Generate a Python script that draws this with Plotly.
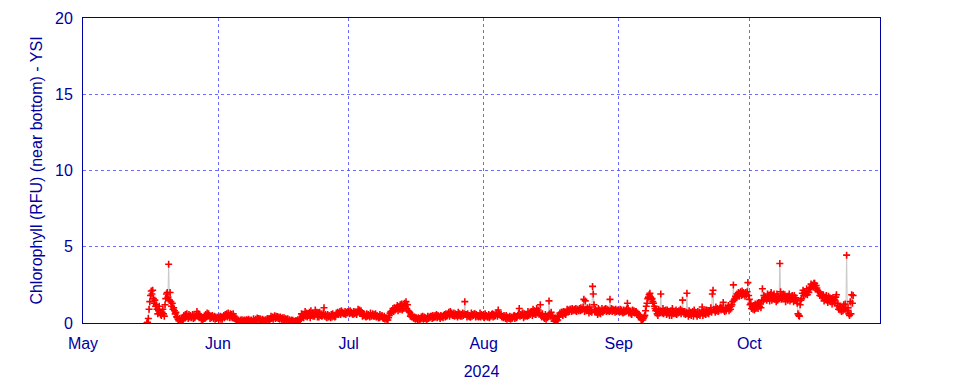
import pandas as pd
import plotly.graph_objects as go

# Chlorophyll (RFU) readings, six per day (every 4 h) starting 2024-05-15 16:00
start_time = "2024-05-15 16:00"
chl_values = [
    0.0, 0.05,                          # May 15
    0.3, 0.9, 1.4, 1.8, 2.1, 1.9,       # May 16
    2.15, 1.6, 1.3, 1.5, 1.1, 1.2,
    0.9, 0.6, 0.8, 1.1, 0.7, 0.55,
    0.5, 0.7, 0.9, 0.6, 0.45, 1.2,
    1.6, 1.9, 2.0, 1.7, 3.85, 1.5,      # May 20
    2.0, 1.4, 1.1, 1.3, 0.9, 1.0,
    0.8, 0.6, 0.7, 0.4, 0.35, 0.25,
    0.15, 0.3, 0.1, 0.2, 0.3, 0.15,
    0.25, 0.5, 0.35, 0.55, 0.4, 0.6,
    0.45, 0.3, 0.55, 0.4, 0.5, 0.35,    # May 25
    0.4, 0.55, 0.3, 0.5, 0.35, 0.45,
    0.5, 0.75, 0.45, 0.6, 0.35, 0.5,
    0.4, 0.25, 0.35, 0.2, 0.3, 0.35,
    0.3, 0.55, 0.4, 0.65, 0.45, 0.6,
    0.5, 0.3, 0.45, 0.35, 0.5, 0.4,     # May 30
    0.3, 0.45, 0.25, 0.4, 0.3, 0.35,
    0.4, 0.2, 0.35, 0.45, 0.25, 0.4,    # Jun 1
    0.25, 0.4, 0.5, 0.35, 0.55, 0.45,
    0.6, 0.4, 0.65, 0.5, 0.35, 0.6,
    0.4, 0.55, 0.35, 0.6, 0.45, 0.3,
    0.3, 0.15, 0.25, 0.1, 0.2, 0.12,    # Jun 5
    0.08, 0.2, 0.12, 0.22, 0.1, 0.15,
    0.2, 0.08, 0.15, 0.22, 0.1, 0.18,
    0.25, 0.1, 0.18, 0.08, 0.2, 0.12,
    0.1, 0.28, 0.15, 0.12, 0.25, 0.1,
    0.32, 0.15, 0.3, 0.2, 0.28, 0.18,   # Jun 10
    0.12, 0.25, 0.08, 0.2, 0.1, 0.18,
    0.22, 0.12, 0.3, 0.15, 0.25, 0.2,
    0.28, 0.45, 0.3, 0.4, 0.25, 0.38,
    0.48, 0.3, 0.45, 0.35, 0.42, 0.3,
    0.38, 0.25, 0.4, 0.3, 0.22, 0.35,   # Jun 15
    0.2, 0.35, 0.15, 0.28, 0.18, 0.25,
    0.28, 0.1, 0.22, 0.15, 0.08, 0.2,
    0.08, 0.18, 0.08, 0.12, 0.06, 0.15,
    0.15, 0.06, 0.22, 0.1, 0.18, 0.25,
    0.3, 0.6, 0.45, 0.55, 0.35, 0.5,    # Jun 20
    0.75, 0.45, 0.65, 0.4, 0.6, 0.5,
    0.7, 0.35, 0.8, 0.5, 0.6, 0.45,
    0.55, 0.45, 0.85, 0.6, 0.7, 0.4,
    0.65, 0.4, 0.7, 0.5, 0.6, 0.45,
    0.5, 0.65, 1.0, 0.45, 0.55, 0.4,    # Jun 25
    0.35, 0.55, 0.4, 0.5, 0.45, 0.35,
    0.55, 0.4, 0.6, 0.45, 0.5, 0.4,
    0.45, 0.65, 0.6, 0.7, 0.55, 0.65,
    0.75, 0.55, 0.8, 0.65, 0.7, 0.6,
    0.6, 0.75, 0.55, 0.7, 0.65, 0.75,   # Jun 30
    0.75, 0.6, 0.8, 0.65, 0.7, 0.6,     # Jul 1
    0.55, 0.75, 0.6, 0.7, 0.65, 0.55,
    0.7, 0.9, 0.75, 0.85, 0.7, 0.8,
    0.65, 0.45, 0.6, 0.5, 0.55, 0.45,
    0.4, 0.6, 0.45, 0.55, 0.5, 0.4,     # Jul 5
    0.65, 0.45, 0.5, 0.6, 0.45, 0.55,
    0.45, 0.6, 0.4, 0.5, 0.45, 0.35,
    0.35, 0.55, 0.4, 0.45, 0.5, 0.35,
    0.3, 0.45, 0.25, 0.35, 0.3, 0.2,
    0.2, 0.35, 0.5, 0.65, 0.75, 0.7,    # Jul 10
    0.8, 0.95, 0.75, 1.0, 0.85, 0.9,
    1.0, 1.15, 0.8, 1.05, 0.9, 1.2,
    0.9, 1.25, 0.85, 1.1, 0.95, 1.3,
    1.1, 1.4, 0.95, 1.2, 0.8, 0.75,
    0.7, 0.45, 0.55, 0.4, 0.5, 0.35,    # Jul 15
    0.3, 0.4, 0.25, 0.35, 0.3, 0.2,
    0.35, 0.2, 0.3, 0.25, 0.4, 0.3,
    0.45, 0.25, 0.4, 0.3, 0.35, 0.25,
    0.25, 0.45, 0.3, 0.4, 0.35, 0.45,
    0.45, 0.3, 0.5, 0.35, 0.4, 0.5,     # Jul 20
    0.4, 0.55, 0.35, 0.5, 0.45, 0.4,
    0.3, 0.5, 0.4, 0.45, 0.35, 0.5,
    0.55, 0.4, 0.6, 0.45, 0.5, 0.6,
    0.7, 0.45, 0.75, 0.55, 0.65, 0.5,
    0.5, 0.65, 0.45, 0.6, 0.5, 0.55,    # Jul 25
    0.4, 0.7, 0.5, 0.6, 0.45, 0.55,
    0.45, 0.65, 0.5, 0.6, 1.4, 0.55,
    0.55, 0.4, 0.6, 0.45, 0.5, 0.4,
    0.4, 0.65, 0.45, 0.55, 0.5, 0.6,
    0.6, 0.4, 0.55, 0.45, 0.5, 0.4,     # Jul 30
    0.45, 0.65, 0.4, 0.55, 0.5, 0.45,
    0.55, 0.35, 0.6, 0.45, 0.5, 0.4,    # Aug 1
    0.4, 0.55, 0.35, 0.5, 0.45, 0.55,
    0.6, 0.4, 0.55, 0.45, 0.5, 0.6,
    0.65, 0.45, 0.85, 0.55, 0.6, 0.5,
    0.55, 0.4, 0.45, 0.35, 0.5, 0.4,    # Aug 5
    0.3, 0.5, 0.25, 0.4, 0.35, 0.3,
    0.45, 0.25, 0.4, 0.3, 0.35, 0.45,
    0.5, 0.3, 0.45, 0.35, 0.4, 0.5,
    0.6, 0.95, 0.45, 0.55, 0.5, 0.6,
    0.65, 0.35, 0.6, 0.45, 0.55, 0.5,   # Aug 10
    0.45, 0.75, 0.5, 0.65, 0.55, 0.7,
    0.75, 0.5, 0.9, 0.6, 0.8, 0.55,
    0.55, 0.95, 0.65, 0.85, 0.7, 0.6,
    1.2, 0.5, 0.4, 0.6, 0.45, 0.35,
    0.3, 0.55, 0.25, 0.45, 0.35, 0.5,   # Aug 15
    1.45, 0.6, 0.45, 0.7, 0.5, 0.4,
    0.3, 0.12, 0.2, 0.1, 0.25, 0.15,
    0.2, 0.5, 0.4, 0.65, 0.55, 0.7,
    0.7, 0.5, 0.75, 0.6, 0.7, 0.55,
    0.7, 0.9, 0.8, 0.85, 0.75, 0.9,     # Aug 20
    0.9, 0.75, 0.95, 0.8, 0.85, 0.9,
    0.8, 0.95, 0.75, 0.9, 0.85, 0.8,
    0.95, 0.8, 1.0, 0.85, 0.9, 1.05,
    1.55, 0.75, 1.45, 0.9, 0.8, 1.0,
    0.9, 0.65, 1.05, 0.75, 0.85, 0.7,   # Aug 25
    2.4, 1.9, 1.2, 0.75, 0.9, 0.7,
    0.8, 0.55, 0.95, 0.65, 0.85, 0.6,
    0.75, 0.95, 0.7, 0.85, 0.8, 0.9,
    0.95, 0.75, 0.9, 0.8, 0.85, 0.75,
    1.55, 0.8, 0.95, 0.75, 0.9, 0.8,    # Aug 30
    0.85, 0.7, 0.9, 0.75, 0.8, 0.85,
    0.8, 0.7, 0.9, 0.75, 0.85, 0.7,     # Sep 1
    0.65, 0.85, 0.7, 0.8, 0.75, 0.9,
    1.3, 0.95, 0.65, 0.8, 0.7, 0.6,
    0.55, 0.85, 0.7, 0.8, 0.65, 0.75,
    0.75, 0.55, 0.65, 0.5, 0.55, 0.45,  # Sep 5
    0.35, 0.22, 0.3, 0.2, 0.3, 0.4,
    0.5, 0.8, 1.1, 1.3, 1.6, 1.7,
    1.85, 1.95, 1.7, 1.55, 1.6, 1.4,
    1.3, 1.1, 0.95, 0.8, 0.9, 0.6,
    0.5, 0.9, 0.65, 0.8, 1.9, 0.75,     # Sep 10
    0.65, 0.95, 0.6, 0.8, 0.7, 0.85,
    0.55, 0.85, 0.65, 0.75, 0.5, 0.7,
    0.8, 0.5, 0.95, 0.6, 0.75, 0.65,
    0.6, 0.85, 0.55, 0.75, 0.65, 0.8,
    0.7, 0.9, 0.6, 0.8, 1.5, 0.75,      # Sep 15
    0.6, 0.75, 0.55, 0.7, 1.95, 0.65,
    0.45, 0.8, 0.55, 0.7, 0.5, 0.65,
    0.75, 0.45, 0.85, 0.6, 0.7, 0.55,
    0.45, 0.75, 0.55, 0.7, 0.5, 0.65,
    0.7, 1.05, 0.5, 0.75, 0.6, 0.8,     # Sep 20
    0.55, 0.85, 0.65, 0.8, 0.6, 0.75,
    0.8, 1.0, 0.7, 1.9, 2.15, 0.9,
    0.85, 0.7, 1.05, 0.8, 0.95, 0.75,
    0.8, 0.95, 1.05, 0.85, 1.0, 0.9,
    1.35, 0.85, 0.75, 1.0, 0.8, 0.95,   # Sep 25
    1.0, 1.15, 0.8, 1.05, 0.9, 1.1,
    1.2, 1.4, 2.5, 1.5, 1.6, 1.75,
    1.65, 1.9, 1.85, 2.0, 1.75, 1.95,
    2.05, 1.8, 2.1, 1.85, 2.0, 1.9,
    1.75, 2.0, 1.85, 2.05, 2.65, 1.8,   # Sep 30
    1.55, 1.2, 1.3, 0.95, 1.1, 0.9,     # Oct 1
    1.15, 0.85, 1.25, 0.95, 1.1, 1.3,
    0.95, 1.35, 1.1, 1.25, 1.0, 1.5,
    2.25, 1.45, 1.8, 1.55, 1.7, 1.6,
    1.5, 1.9, 1.6, 1.75, 1.45, 1.85,    # Oct 5
    2.0, 1.5, 1.8, 1.6, 1.9, 1.55,
    1.65, 1.4, 1.9, 1.5, 1.75, 1.6,
    3.9, 2.05, 1.55, 1.8, 1.65, 1.9,
    1.7, 1.85, 1.4, 1.6, 1.75, 1.5,
    1.75, 1.9, 1.45, 1.65, 1.55, 1.8,   # Oct 10
    1.7, 1.4, 1.8, 1.55, 1.65, 1.45,
    1.3, 0.6, 0.5, 0.45, 1.2, 1.5,
    1.6, 1.95, 2.15, 1.8, 2.0, 1.9,
    1.9, 2.25, 1.85, 2.1, 2.0, 2.3,
    2.3, 2.55, 2.4, 2.5, 2.35, 2.6,     # Oct 15
    2.6, 2.25, 2.45, 2.3, 2.15, 2.05,
    2.05, 1.8, 1.95, 1.75, 1.85, 1.7,
    1.85, 1.45, 1.7, 1.55, 1.8, 1.5,
    1.35, 1.75, 1.5, 1.65, 1.4, 1.6,
    1.25, 1.65, 1.45, 1.55, 1.3, 1.7,   # Oct 20
    1.85, 1.15, 1.3, 0.9, 1.05, 0.85,
    1.05, 0.75, 0.95, 0.8, 1.2, 0.9,
    1.25, 0.9, 4.45, 0.8, 1.0, 0.6,
    0.5, 1.4, 0.6, 1.85, 1.3, 1.8,      # Oct 24
]

times = pd.date_range(start=start_time, periods=len(chl_values), freq="4h")

x_range = ["2024-05-01", "2024-10-31"]
y_range = [0, 20]
y_ticks = [0, 5, 10, 15, 20]

text_color = "#0000a0"
grid_color = "rgba(70,70,255,0.8)"

fig = go.Figure()
fig.add_trace(go.Scatter(
    x=times, y=chl_values, mode="lines+markers",
    line=dict(color="#c8c8c8", width=1),
    marker=dict(symbol="cross-thin", size=5, color="red",
                line=dict(color="red", width=1.6)),
    showlegend=False,
))

font = dict(family="Liberation Sans, Arial, sans-serif", size=16, color=text_color)

# the page body has an 8px default margin, so margins are offset accordingly
fig.update_layout(
    width=960, height=384,
    margin=dict(l=75, r=88, t=10, b=69),
    paper_bgcolor="white", plot_bgcolor="white",
    font=font,
    xaxis=dict(
        range=x_range, type="date", dtick="M1", tick0="2024-05-01",
        tickformat="%b", showgrid=True, gridcolor=grid_color,
        griddash="dot", gridwidth=1, automargin=False,
        showline=True, linecolor=text_color, linewidth=1, mirror=True,
        ticks="", ticklabelstandoff=6, zeroline=False,
        title=dict(text="2024", font=font, standoff=14),
    ),
    yaxis=dict(
        range=y_range, tickvals=y_ticks, showgrid=True, gridcolor=grid_color,
        griddash="dot", gridwidth=1, automargin=False,
        showline=True, linecolor=text_color, linewidth=1, mirror=True,
        ticks="", ticklabelstandoff=6, zeroline=False,
        title=dict(text="Chlorophyll (RFU) (near bottom) - YSI", font=font, standoff=8),
    ),
)

fig.write_html("out.html")
